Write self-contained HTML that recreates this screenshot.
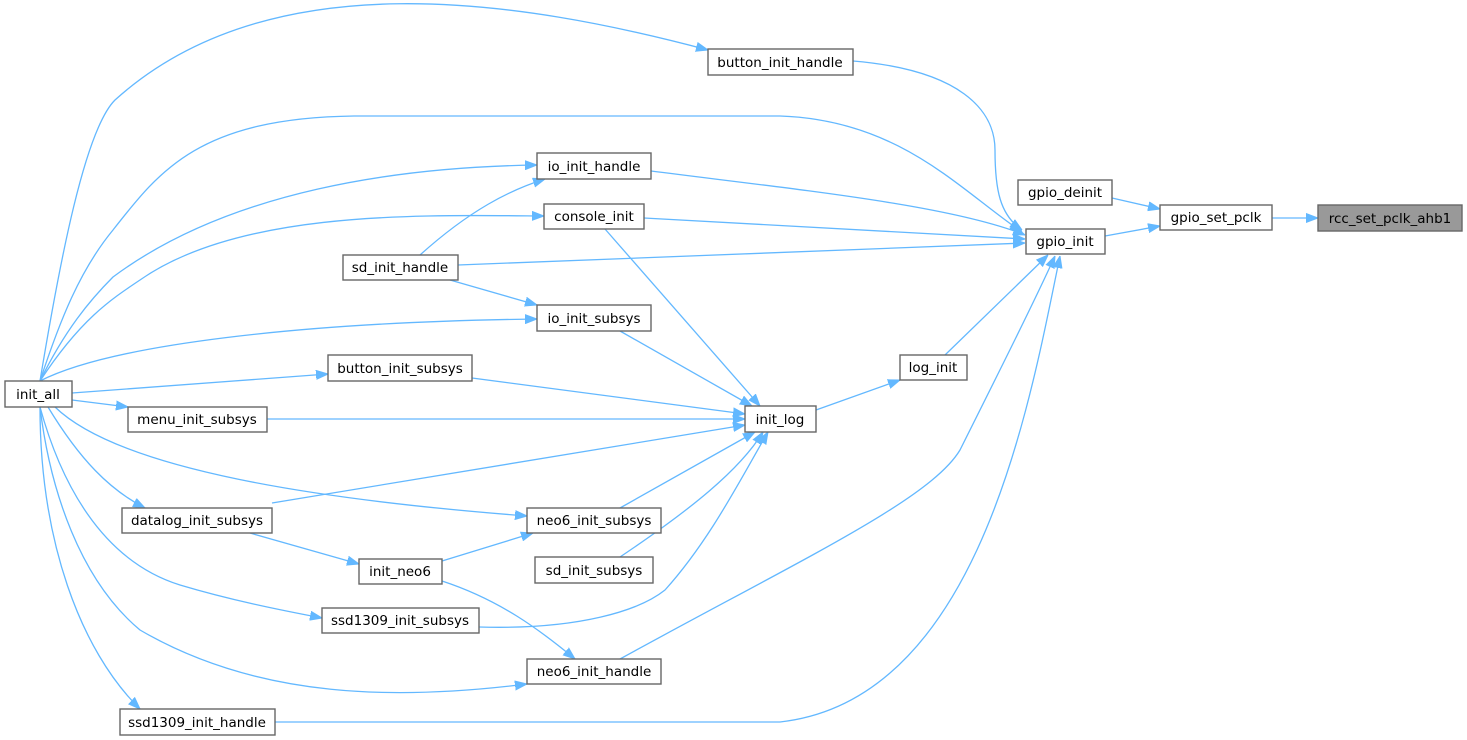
<!DOCTYPE html>
<html><head><meta charset="utf-8"><style>
html,body{margin:0;padding:0;background:#fff;}
svg{display:block}
text{font-family:"DejaVu Sans","Liberation Sans",sans-serif;font-size:13.5px;fill:#000;text-anchor:middle;}
.n{fill:#fff;stroke:#666;stroke-width:1.4}
.e{fill:none;stroke:#63b8ff;stroke-width:1.3}
</style></head><body>
<svg width="1467" height="740" viewBox="0 0 1467 740" xmlns="http://www.w3.org/2000/svg">
<defs><marker id="a" viewBox="0 0 12 10" refX="12" refY="5" markerWidth="12" markerHeight="10" markerUnits="userSpaceOnUse" orient="auto"><path d="M0,0.5 L12,5 L0,9.5 z" fill="#63b8ff" stroke="#63b8ff"/></marker></defs>
<g class="e" marker-end="url(#a)">
<path d="M1272,218 L1318,218"/>
<path d="M1112,198 L1160,209"/>
<path d="M1105,236 L1160,226"/>
<path d="M853,61 C960,70 995,110 995,150 C995,190 1000,215 1022,230"/>
<path d="M40,381 C60,320 80,270 113,230 C160,170 200,118 354,116 L780,116 C900,120 960,190 1022,232"/>
<path d="M651,171 C800,190 950,205 1025,235"/>
<path d="M644,218 L1025,239"/>
<path d="M458,265 L1025,243"/>
<path d="M945,355 L1048,255"/>
<path d="M620,659 C800,560 930,500 960,450 C1000,370 1035,300 1055,256"/>
<path d="M275,722 L780,722 C980,700 1030,400 1060,256"/>
<path d="M816,410 L900,380"/>
<path d="M40,381 C60,260 85,130 115,100 C270,-40 520,0 708,50"/>
<path d="M40,381 C65,330 90,300 113,277 C230,190 400,167 537,165"/>
<path d="M40,381 C80,320 110,300 140,280 C240,210 420,215 544,216"/>
<path d="M420,255 C470,210 510,190 545,179"/>
<path d="M450,280 L537,305"/>
<path d="M40,381 C110,345 300,322 537,319"/>
<path d="M72,393 L328,374"/>
<path d="M72,400 L128,407"/>
<path d="M48,407 C80,460 110,490 145,508"/>
<path d="M55,407 C120,470 320,500 527,516"/>
<path d="M40,407 C60,480 100,560 180,585 C230,600 280,610 322,618"/>
<path d="M40,407 C50,490 80,580 140,630 C260,700 400,700 527,684"/>
<path d="M40,407 C40,540 80,650 140,709"/>
<path d="M250,533 L359,564"/>
<path d="M442,561 L533,533"/>
<path d="M442,581 C500,600 540,630 575,659"/>
<path d="M605,229 L760,406"/>
<path d="M620,331 L752,406"/>
<path d="M472,378 L745,414"/>
<path d="M267,419 L745,419"/>
<path d="M272,503 L745,425"/>
<path d="M620,508 L755,432"/>
<path d="M620,557 C690,510 740,470 763,432"/>
<path d="M479,627 C580,630 640,610 665,590 C710,540 740,480 768,432"/>
</g>
<g>
<rect class="n" x="708" y="49" width="145" height="26"/><text x="780" y="67">button_init_handle</text>
<rect class="n" x="537" y="153" width="114" height="26"/><text x="594" y="171">io_init_handle</text>
<rect class="n" x="544" y="204" width="100" height="25"/><text x="594" y="221">console_init</text>
<rect class="n" x="343" y="255" width="115" height="25"/><text x="400" y="272">sd_init_handle</text>
<rect class="n" x="537" y="305" width="114" height="26"/><text x="594" y="323">io_init_subsys</text>
<rect class="n" x="328" y="355" width="144" height="26"/><text x="400" y="373">button_init_subsys</text>
<rect class="n" x="5" y="381" width="67" height="26"/><text x="38" y="399">init_all</text>
<rect class="n" x="128" y="407" width="139" height="25"/><text x="197" y="424">menu_init_subsys</text>
<rect class="n" x="122" y="508" width="150" height="25"/><text x="197" y="525">datalog_init_subsys</text>
<rect class="n" x="527" y="508" width="134" height="25"/><text x="594" y="525">neo6_init_subsys</text>
<rect class="n" x="359" y="559" width="83" height="25"/><text x="400" y="576">init_neo6</text>
<rect class="n" x="535" y="557" width="118" height="26"/><text x="594" y="575">sd_init_subsys</text>
<rect class="n" x="322" y="608" width="157" height="25"/><text x="400" y="625">ssd1309_init_subsys</text>
<rect class="n" x="527" y="659" width="134" height="25"/><text x="594" y="676">neo6_init_handle</text>
<rect class="n" x="120" y="709" width="155" height="26"/><text x="197" y="727">ssd1309_init_handle</text>
<rect class="n" x="1018" y="180" width="94" height="25"/><text x="1065" y="197">gpio_deinit</text>
<rect class="n" x="1160" y="205" width="112" height="25"/><text x="1216" y="222">gpio_set_pclk</text>
<rect x="1318" y="205" width="144" height="26" fill="#999" stroke="#666" stroke-width="1.4"/><text x="1390" y="223">rcc_set_pclk_ahb1</text>
<rect class="n" x="1026" y="229" width="79" height="25"/><text x="1065" y="246">gpio_init</text>
<rect class="n" x="900" y="355" width="67" height="25"/><text x="933" y="372">log_init</text>
<rect class="n" x="745" y="406" width="71" height="26"/><text x="780" y="424">init_log</text>
</g>
</svg>
</body></html>
